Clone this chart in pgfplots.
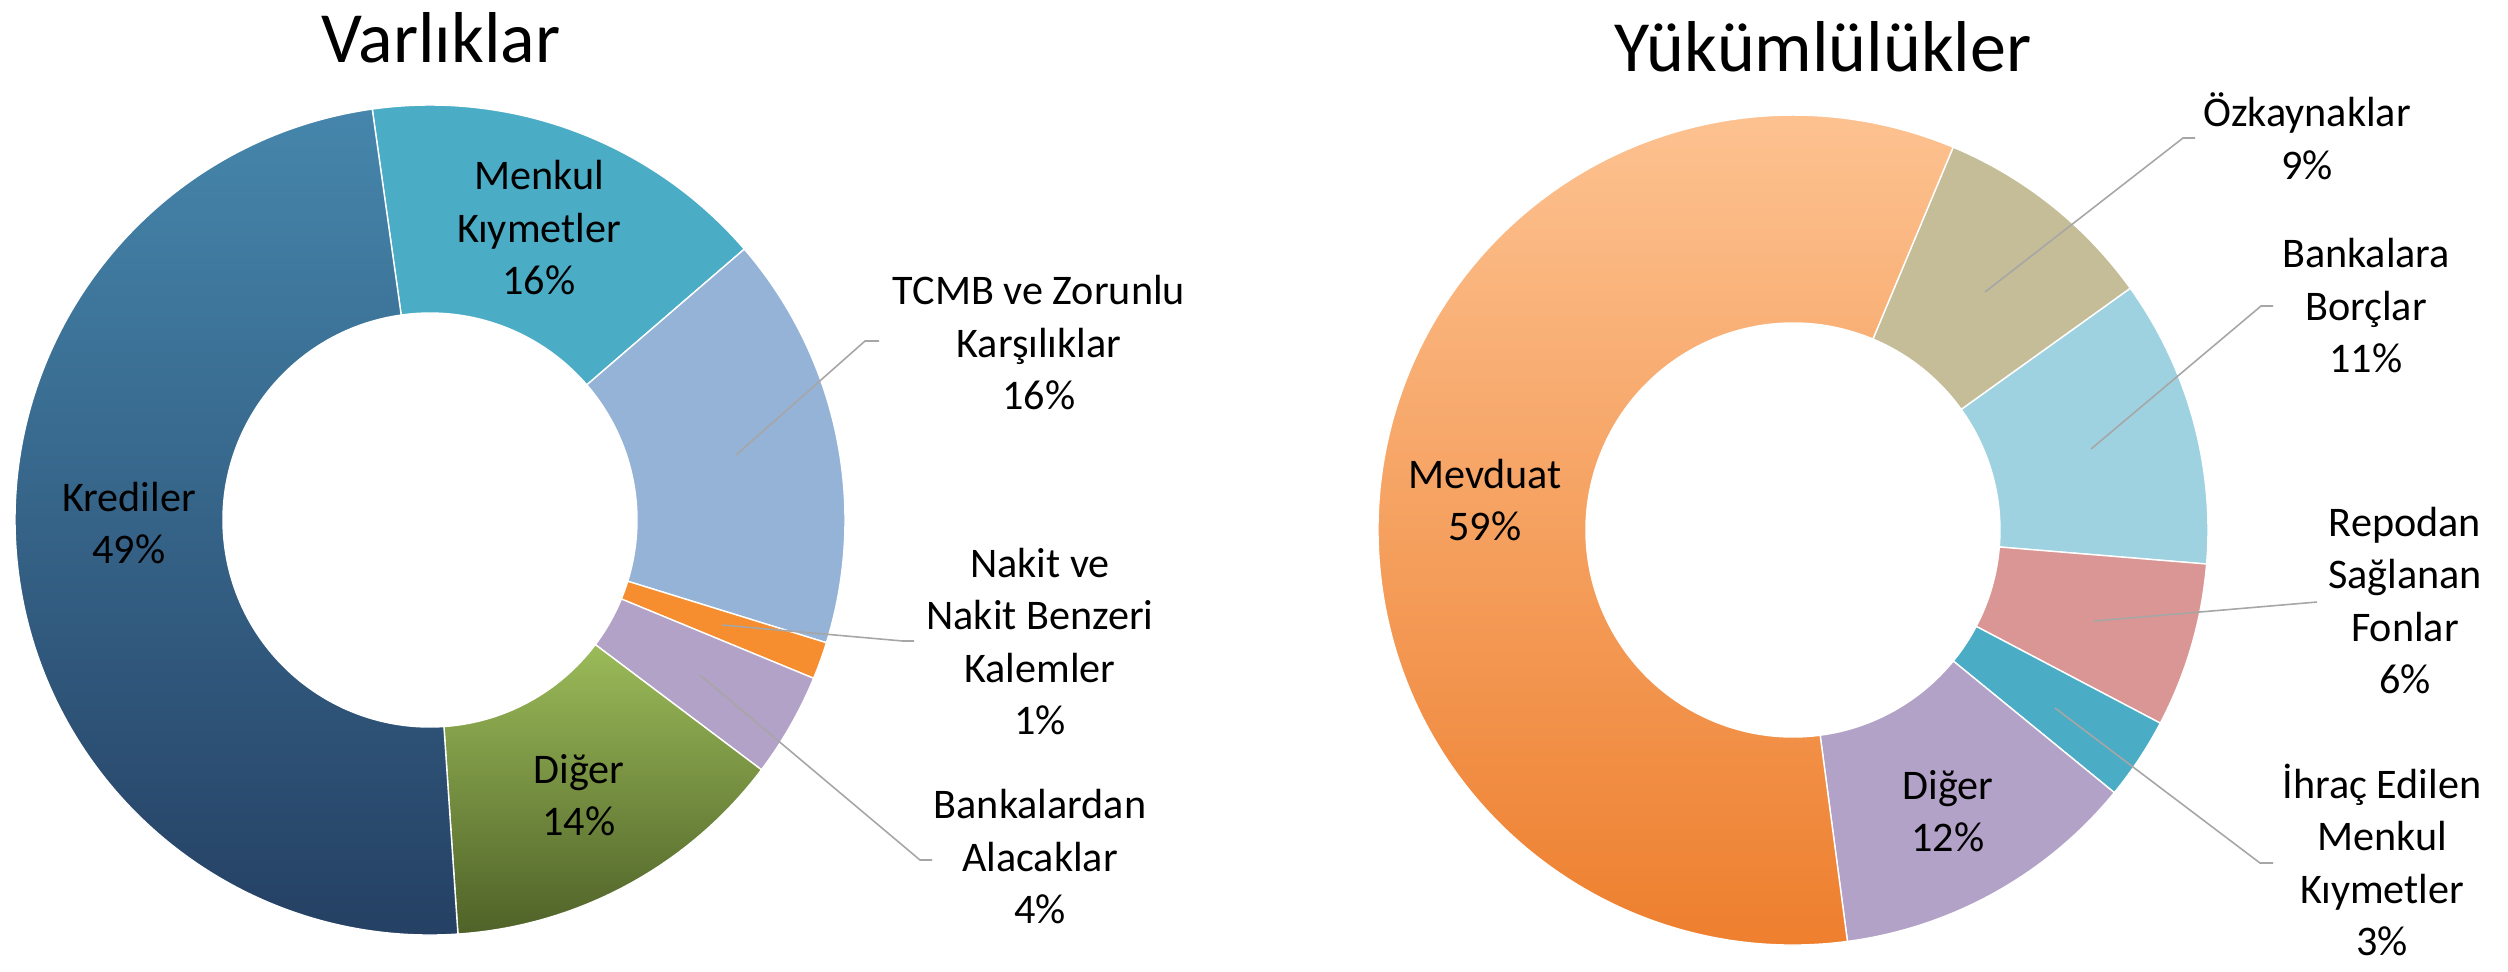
\documentclass[border=0pt]{standalone}
\usepackage{pgfplots}
\usepackage{pgfplotstable}
\pgfplotsset{compat=1.18}
\usepackage{fontspec}
\setmainfont{Carlito}
\usetikzlibrary{calc}

\definecolor{krTop}{HTML}{4686AC}
\definecolor{krBot}{HTML}{243F62}
\definecolor{menkul}{HTML}{4BACC6}
\definecolor{tcmb}{HTML}{95B3D7}
\definecolor{nakit}{HTML}{F68D2E}
\definecolor{lila}{HTML}{B2A2C7}
\definecolor{grTop}{HTML}{9BBB59}
\definecolor{grBot}{HTML}{4F6228}
\definecolor{mvTop}{HTML}{FDC291}
\definecolor{mvBot}{HTML}{ED7D2B}
\definecolor{ozk}{HTML}{C4BD97}
\definecolor{bborc}{HTML}{9FD2E0}
\definecolor{repo}{HTML}{D99694}
\definecolor{leader}{HTML}{A6A6A6}

\tikzset{
  sKred/.style={top color=krTop,bottom color=krBot},
  sMenkul/.style={fill=menkul},
  sTcmb/.style={fill=tcmb},
  sNakit/.style={fill=nakit},
  sLila/.style={fill=lila},
  sDigerA/.style={top color=grTop,bottom color=grBot},
  sMevduat/.style={top color=mvTop,bottom color=mvBot},
  sOzk/.style={fill=ozk},
  sBorc/.style={fill=bborc},
  sRepo/.style={fill=repo},
  sIhrac/.style={fill=menkul},
  % anchor=base of a multi-line node is the baseline of its last line
  lbl/.style={align=center,anchor=base,inner sep=0pt,
    font=\fontsize{12}{14.8}\selectfont},
  ttl/.style={anchor=base,inner sep=0pt,font=\fontsize{20.5}{24}\selectfont},
  lead/.style={draw=leader,line width=0.45pt},
}

% shares in percent, clockwise from the start angle
\pgfplotstableread{
slice        share  style
Menkul       15.9   sMenkul
TCMB         16.1   sTcmb
Nakit        1.45   sNakit
Bankalardan  4.05   sLila
Diger        13.65  sDigerA
Krediler     48.85  sKred
}\varliklar

\pgfplotstableread{
slice        share  style
Ozkaynaklar  8.8    sOzk
Bankalara    11.2   sBorc
Repo         6.4    sRepo
Ihrac        3.2    sIhrac
Diger        12.0   sLila
Mevduat      58.4   sMevduat
}\yukumluluk

\def\ro{4.15cm}
\def\ri{2.07cm}

% #1 table, #2 cx, #3 cy (pixels from top), #4 start angle
\newcommand{\drawdonut}[4]{%
  \xdef\acc{#4}%
  \pgfplotstableforeachcolumnelement{share}\of#1\as\share{%
    \pgfplotstablegetelem{\pgfplotstablerow}{style}\of#1%
    \let\st\pgfplotsretval
    \pgfmathsetmacro\aend{\acc-3.6*\share}%
    \expandafter\path\expandafter[\st,draw=white,line width=0.4pt]
      ($(axis cs:#2,#3)+(\acc:\ro)$)
      arc[start angle=\acc,end angle=\aend,radius=\ro]
      -- ($(axis cs:#2,#3)+(\aend:\ri)$)
      arc[start angle=\aend,end angle=\acc,radius=\ri] -- cycle;
    \xdef\acc{\aend}%
  }%
}

\begin{document}
\begin{tikzpicture}
\begin{axis}[
  scale only axis,
  width=25.08cm, height=9.71cm,
  xmin=0, xmax=2508, ymin=0, ymax=971,
  y dir=reverse,
  hide axis,
  clip=false,
]
\pgfplotsextra{
  \drawdonut{\varliklar}{430}{520}{98}
  \drawdonut{\yukumluluk}{1793}{530}{67.3}
}

% titles
\node[ttl] at (axis cs:441,62) {Varlıklar};
\node[ttl] at (axis cs:1823,71) {Yükümlülükler};

% Varliklar labels (y = baseline of last line)
\node[lbl] at (axis cs:539,294) {Menkul\\Kıymetler\\16\%};
\node[lbl] at (axis cs:129,563) {Krediler\\49\%};
\node[lbl] at (axis cs:579,835) {Diğer\\14\%};
\node[lbl] at (axis cs:1039,409) {TCMB ve Zorunlu\\Karşılıklar\\16\%};
\node[lbl] at (axis cs:1040,734) {Nakit ve\\Nakit Benzeri\\Kalemler\\1\%};
\node[lbl] at (axis cs:1040,923) {Bankalardan\\Alacaklar\\4\%};
\draw[lead] (axis cs:736,455) -- (axis cs:865,341) -- (axis cs:879,341);
\draw[lead] (axis cs:722,625) -- (axis cs:903,641) -- (axis cs:914,641);
\draw[lead] (axis cs:700,675) -- (axis cs:920,860) -- (axis cs:932,860);

% Yukumlulukler labels
\node[lbl] at (axis cs:1485,540) {Mevduat\\59\%};
\node[lbl] at (axis cs:1948,851) {Diğer\\12\%};
\node[lbl] at (axis cs:2307,179) {Özkaynaklar\\9\%};
\node[lbl] at (axis cs:2366,372) {Bankalara\\Borçlar\\11\%};
\node[lbl] at (axis cs:2405,693) {Repodan\\Sağlanan\\Fonlar\\6\%};
\node[lbl] at (axis cs:2382,955) {İhraç Edilen\\Menkul\\Kıymetler\\3\%};
\draw[lead] (axis cs:1985,292) -- (axis cs:2183,138) -- (axis cs:2195,138);
\draw[lead] (axis cs:2091,449) -- (axis cs:2261,306) -- (axis cs:2273,306);
\draw[lead] (axis cs:2094,621) -- (axis cs:2317,602);
\draw[lead] (axis cs:2055,708) -- (axis cs:2260,863) -- (axis cs:2273,863);
\end{axis}
\pgfresetboundingbox
\path[use as bounding box] (current axis.south west) rectangle (current axis.north east);
\end{tikzpicture}
\end{document}
